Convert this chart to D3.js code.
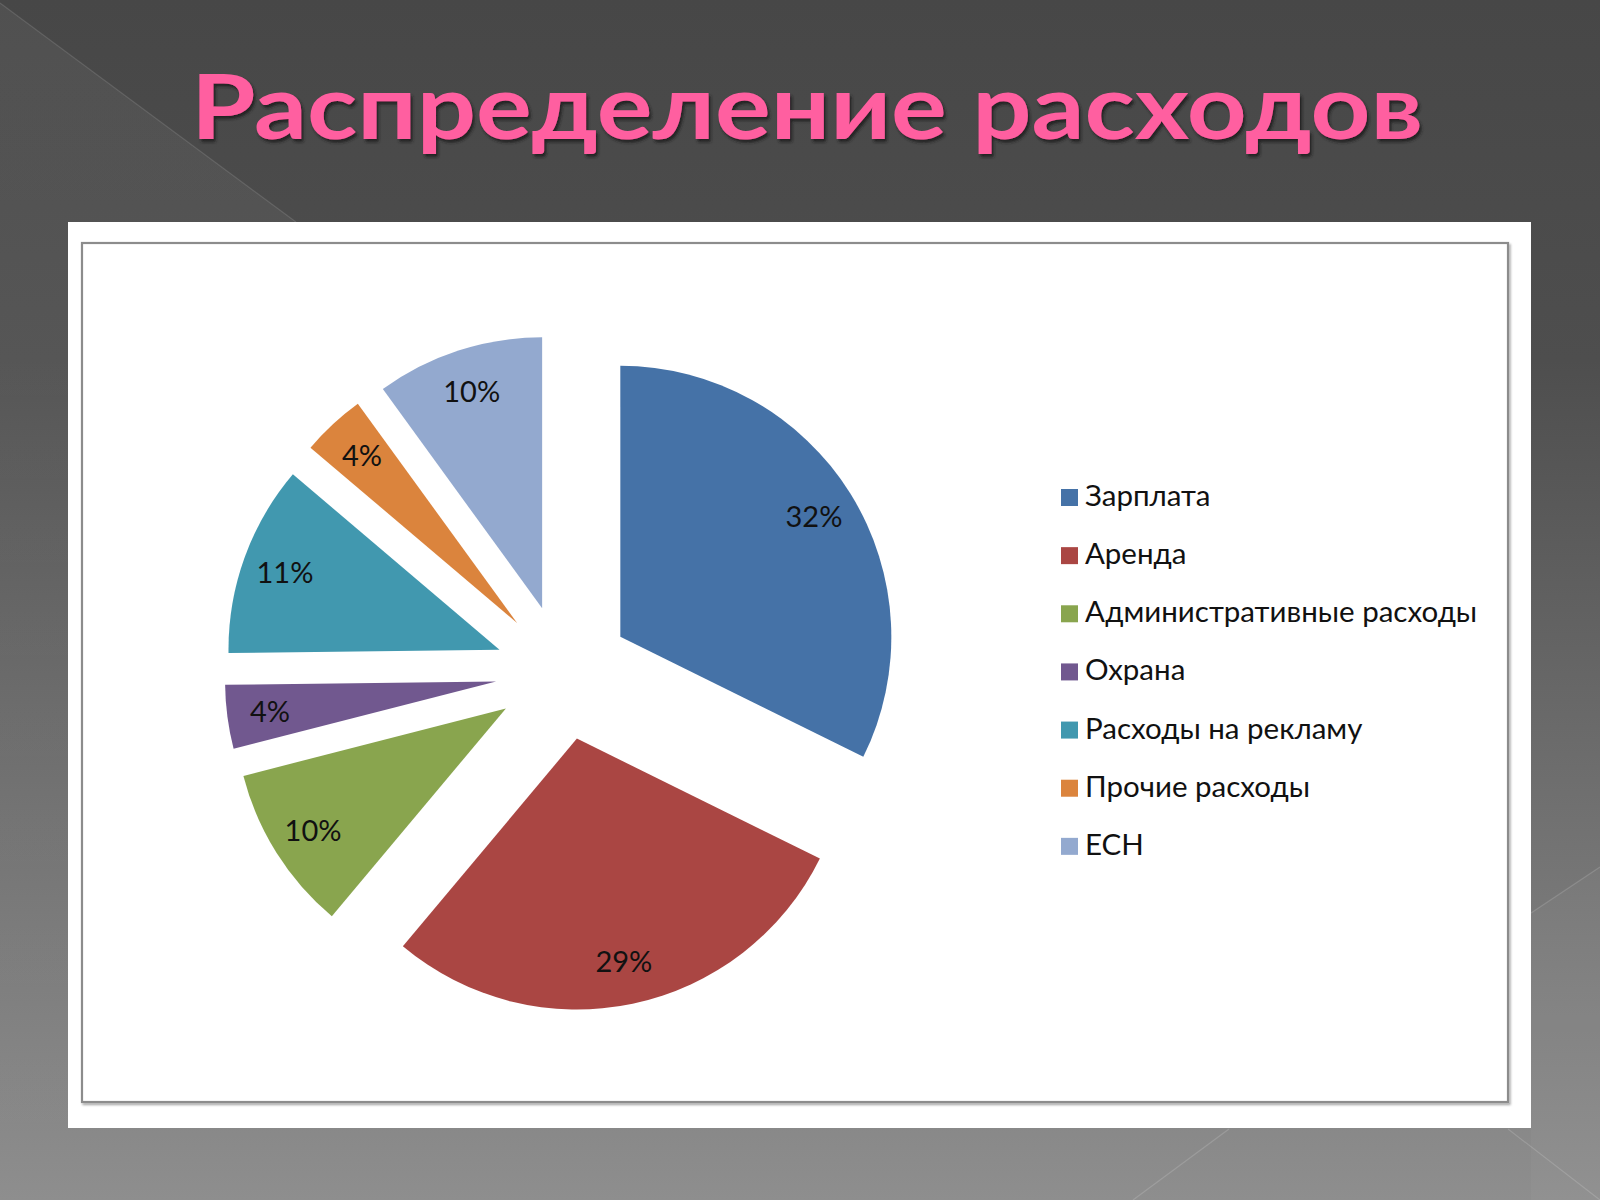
<!DOCTYPE html>
<html>
<head>
<meta charset="utf-8">
<script src="https://cdnjs.cloudflare.com/ajax/libs/d3/7.8.5/d3.min.js"></script>
<style>
  body { margin: 0; background: #4a4a4a; }
  svg { display: block; }
</style>
</head>
<body>
<div id="chart"></div>
<script>
////////////////////////////////////////////////////////////////////////
// Data (shares, in percent)

let categories = ["Зарплата", "Аренда", "Административные расходы", "Охрана",
                  "Расходы на рекламу", "Прочие расходы", "ЕСН"];
let shares = [32.3, 28.8, 9.9, 3.8, 11.4, 3.8, 10.0];
let sliceColors = ["#4572A7", "#AA4643", "#89A54E", "#71588F",
                   "#4198AF", "#DB843D", "#93A9CF"];
let titleText = "Распределение расходов";

////////////////////////////////////////////////////////////////////////
// Layout variables

let width = 1600;
let height = 1200;
let cx = 563, cy = 672.5;   // pie centre
let radius = 271;
let explode = 67.5;         // every slice pulled out by the same amount
let labelR = 228;

let svg = d3.select("#chart")
  .append("svg")
  .attr("width", width)
  .attr("height", height);

let defs = svg.append("defs");

// slide background gradient
let grad = defs.append("linearGradient")
  .attr("id", "bg")
  .attr("x1", 0).attr("y1", 0)
  .attr("x2", 0).attr("y2", 1);
grad.append("stop").attr("offset", "0").attr("stop-color", "#474747");
grad.append("stop").attr("offset", "0.3").attr("stop-color", "#4e4e4e");
grad.append("stop").attr("offset", "1").attr("stop-color", "#8e8e8e");

// light band at the left, fading downwards
let band = defs.append("linearGradient")
  .attr("id", "band")
  .attr("gradientUnits", "userSpaceOnUse")
  .attr("x1", 0).attr("y1", 0)
  .attr("x2", 0).attr("y2", 1200);
band.append("stop").attr("offset", "0").attr("stop-color", "#fff").attr("stop-opacity", 0.05);
band.append("stop").attr("offset", "0.3").attr("stop-color", "#fff").attr("stop-opacity", 0.045);
band.append("stop").attr("offset", "1").attr("stop-color", "#fff").attr("stop-opacity", 0);

// title shadow
let shadow = defs.append("filter")
  .attr("id", "tshadow")
  .attr("x", "-5%").attr("y", "-20%")
  .attr("width", "110%").attr("height", "140%");
shadow.append("feDropShadow")
  .attr("dx", 2).attr("dy", 3)
  .attr("stdDeviation", 1.6)
  .attr("flood-color", "#1c1c1c")
  .attr("flood-opacity", 0.9);

// frame shadow
let fshadow = defs.append("filter")
  .attr("id", "fshadow")
  .attr("x", "-2%").attr("y", "-2%")
  .attr("width", "104%").attr("height", "104%");
fshadow.append("feDropShadow")
  .attr("dx", 1.5).attr("dy", 2)
  .attr("stdDeviation", 1.2)
  .attr("flood-color", "#000")
  .attr("flood-opacity", 0.35);

////////////////////////////////////////////////////////////////////////
// Background

svg.append("rect")
  .attr("width", width)
  .attr("height", height)
  .attr("fill", "url(#bg)");

// lighter triangle top left, running on down the left margin
svg.append("path")
  .attr("d", "M0,3 L296,222 L68,222 L68,1200 L0,1200 Z")
  .attr("fill", "url(#band)");
svg.append("line")
  .attr("x1", 0).attr("y1", 3).attr("x2", 296).attr("y2", 222)
  .attr("stroke", "#fff").attr("stroke-opacity", 0.12).attr("stroke-width", 1.2);

// faint decoration lines at the right and bottom
let decoLines = [[1531, 913, 1600, 867], [1229, 1129, 1133, 1200], [1508, 1129, 1600, 1200]];
svg.selectAll(".deco")
  .data(decoLines)
  .join("line")
  .attr("class", "deco")
  .attr("x1", d => d[0]).attr("y1", d => d[1])
  .attr("x2", d => d[2]).attr("y2", d => d[3])
  .attr("stroke", "#fff")
  .attr("stroke-opacity", 0.15)
  .attr("stroke-width", 1.2);
svg.append("path")
  .attr("d", "M1531,913 L1600,867 L1600,1200 L1531,1200 Z")
  .attr("fill", "#fff")
  .attr("fill-opacity", 0.03);

////////////////////////////////////////////////////////////////////////
// Title

svg.append("text")
  .attr("x", 191)
  .attr("y", 139)
  .attr("textLength", 1232)
  .attr("lengthAdjust", "spacingAndGlyphs")
  .attr("font-family", "Lato, 'DejaVu Sans', sans-serif")
  .attr("font-weight", 700)
  .attr("font-size", 90)
  .attr("fill", "#ff5ea0")
  .attr("filter", "url(#tshadow)")
  .text(titleText);

////////////////////////////////////////////////////////////////////////
// Chart panel

svg.append("rect")
  .attr("x", 68).attr("y", 222)
  .attr("width", 1531 - 68).attr("height", 1128 - 222)
  .attr("fill", "#fff");

svg.append("rect")
  .attr("x", 82).attr("y", 243)
  .attr("width", 1508 - 82).attr("height", 1102 - 243)
  .attr("fill", "#fff")
  .attr("stroke", "#8c8c8c")
  .attr("stroke-width", 2.2)
  .attr("filter", "url(#fshadow)");

////////////////////////////////////////////////////////////////////////
// Pie

let pie = d3.pie().sort(null).value(d => d);
let arcs = pie(shares);
let arcGen = d3.arc().innerRadius(0).outerRadius(radius);
let labelArc = d3.arc().innerRadius(labelR).outerRadius(labelR);

// offset of an exploded slice along its middle angle
function shift(d) {
  let a = (d.startAngle + d.endAngle) / 2;
  return [explode * Math.sin(a), -explode * Math.cos(a)];
}

let pieG = svg.append("g")
  .attr("transform", `translate(${cx}, ${cy})`);

let slices = pieG.selectAll(".slice")
  .data(arcs)
  .join("g")
  .attr("class", "slice")
  .attr("transform", d => {
    let s = shift(d);
    return `translate(${s[0]}, ${s[1]})`;
  });

slices.append("path")
  .attr("d", arcGen)
  .attr("fill", (d, i) => sliceColors[i]);

let total = d3.sum(shares);
slices.append("text")
  .attr("transform", d => `translate(${labelArc.centroid(d)})`)
  .attr("text-anchor", "middle")
  .attr("dy", "0.36em")
  .attr("font-family", "Lato, 'Open Sans', sans-serif")
  .attr("font-size", 29)
  .attr("fill", "#111")
  .text(d => Math.round(d.value / total * 100) + "%");

////////////////////////////////////////////////////////////////////////
// Legend

let legY = d3.scaleBand()
  .domain(categories)
  .range([477, 884]);

let legend = svg.append("g").attr("class", "legend");
let items = legend.selectAll("g")
  .data(categories)
  .join("g")
  .attr("transform", d => `translate(1061, ${legY(d)})`);

items.append("rect")
  .attr("x", 0)
  .attr("y", 12)
  .attr("width", 17)
  .attr("height", 17)
  .attr("fill", (d, i) => sliceColors[i]);

items.append("text")
  .attr("x", 24)
  .attr("y", 29)
  .attr("font-family", "Lato, 'Open Sans', sans-serif")
  .attr("font-size", 29.5)
  .attr("fill", "#111")
  .text(d => d);
</script>
</body>
</html>
